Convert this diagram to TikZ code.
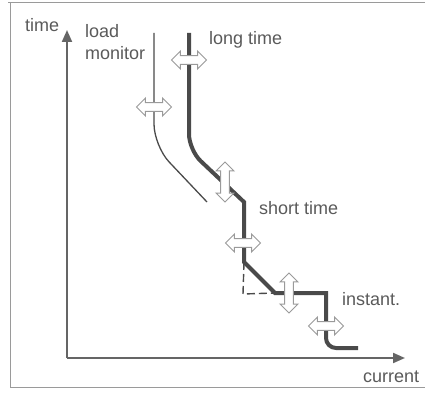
\documentclass[tikz,border=0pt]{standalone}
\usepackage{fontspec}
\setmainfont{Liberation Sans}
\usetikzlibrary{shapes.arrows,arrows.meta}
\definecolor{ink}{HTML}{4A4A4A}
\definecolor{txt}{HTML}{5A5A5A}
\definecolor{frm}{HTML}{9A9A9A}
\tikzset{
  lbl/.style={anchor=base west, inner sep=0pt, text=txt, font=\fontsize{18}{20}\selectfont},
  dbl/.style={double arrow, draw=frm, fill=white, line width=1pt, inner sep=3.8pt,
    minimum height=35pt, double arrow head extend=4.5pt},
  dblv/.style={dbl, rotate=90, minimum height=40pt},
  thickc/.style={draw=ink, line width=4pt},
  thinc/.style={draw=ink, line width=1.3pt},
  axis/.style={draw=ink!85, line width=2pt, -{Triangle[length=12pt,width=10pt]}}
}
\begin{document}
\begin{tikzpicture}[x=1pt,y=-1pt]
\useasboundingbox (0,0) rectangle (425,393);
% frame
\draw[frm, line width=1pt] (8,3) -- (425,3);
\draw[frm, line width=1pt] (10,3) -- (10,387) -- (425,387);
% axes
\coordinate (O) at (67,358);
\coordinate (ytip) at (67,30);
\coordinate (xtip) at (405,358);
\draw[axis] (O) -- (ytip);
\draw[axis] (O) -- (xtip);
% load monitor curve
\coordinate (lm0) at (154,33);
\coordinate (lm1) at (154,146);
\coordinate (lm2) at (207,202);
\draw[thinc, rounded corners=22pt] (lm0) -- (lm1) -- (lm2);
% main trip curve
\coordinate (t0) at (189,33);
\coordinate (t1) at (189,150);
\coordinate (t2) at (244,202);
\coordinate (t3) at (244,262);
\coordinate (t4) at (275,293);
\coordinate (t5) at (326,293);
\coordinate (t6) at (326,348);
\coordinate (t7) at (358,348);
\draw[thickc, line join=miter] (t0) [rounded corners=16pt] -- (t1) [sharp corners] -- (t2) -- (t3) -- (t4) -- (t5) [rounded corners=10pt] -- (t6) -- (t7);
% dashed alternative
\coordinate (d1) at (243,294);
\draw[ink, line width=1.4pt, dash pattern=on 8pt off 4pt] (t3) -- (d1) -- (t4);
% adjustment arrows
\node[dbl] (a1) at (189,60) {};
\node[dbl] (a2) at (154,107) {};
\node[dblv] (a3) at (225,182) {};
\node[dbl] (a4) at (243,243) {};
\node[dblv] (a5) at (289,293) {};
\node[dbl] (a6) at (326,326) {};
% labels
\node[lbl] (ltime) at (25,32) {time};
\node[lbl] (lload) at (85,38) {load};
\node[lbl] (lmon) at (85,60) {monitor};
\node[lbl] (llong) at (209,45) {long time};
\node[lbl] (lshort) at (259,214) {short time};
\node[lbl] (linst) at (342,305) {instant.};
\node[lbl] (lcur) at (363,382) {current};
\end{tikzpicture}
\end{document}
